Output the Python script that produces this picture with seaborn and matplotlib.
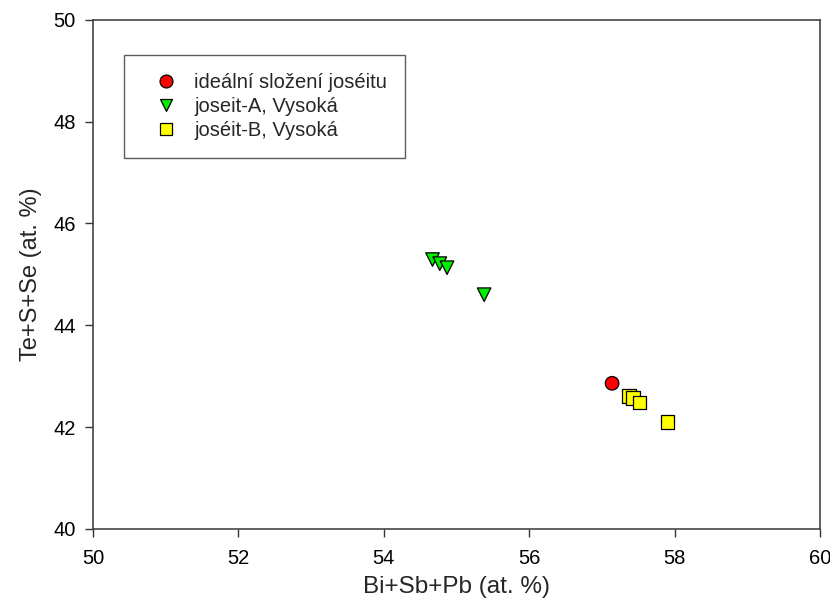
import matplotlib
matplotlib.use("Agg")
import matplotlib.pyplot as plt
import seaborn as sns
import pandas as pd

ideal_x = [57.14]
ideal_y = [42.86]
a_x = [54.67, 54.77, 54.87, 55.38]
a_y = [45.29, 45.21, 45.13, 44.60]
b_x = [57.37, 57.43, 57.52, 57.90]
b_y = [42.61, 42.57, 42.48, 42.10]
labels = ["ideální složení joséitu", "joseit-A, Vysoká", "joséit-B, Vysoká"]
xticks = [50, 52, 54, 56, 58, 60]
yticks = [40, 42, 44, 46, 48, 50]

df = pd.DataFrame({
    "x": ideal_x + a_x + b_x,
    "y": ideal_y + a_y + b_y,
    "grp": [labels[0]] * len(ideal_x) + [labels[1]] * len(a_x) + [labels[2]] * len(b_x),
})

sns.set_style("white")
plt.rcParams["font.family"] = ["Liberation Sans", "DejaVu Sans"]

fig = plt.figure(figsize=(8.3, 5.99), dpi=100)
ax = fig.add_axes([0.112, 0.117, 0.876, 0.850])

sns.scatterplot(data=df, x="x", y="y", hue="grp", style="grp",
                hue_order=labels, style_order=labels,
                palette={labels[0]: "#ff0000", labels[1]: "#00ee00", labels[2]: "#ffff00"},
                markers={labels[0]: "o", labels[1]: "v", labels[2]: "s"},
                s=95, edgecolor="black", linewidth=0.9, ax=ax, zorder=3)

ax.set_xlim(50, 60)
ax.set_ylim(40, 50)
ax.set_xticks(xticks)
ax.set_yticks(yticks)
ax.tick_params(axis="both", which="major", direction="out", length=5.5, width=1,
               color="#333333", labelcolor="black", labelsize=14.5,
               bottom=True, left=True, top=False, right=False)
ax.tick_params(axis="x", pad=9)
ax.tick_params(axis="y", pad=7)
for sp in ax.spines.values():
    sp.set_color("#444444")
    sp.set_linewidth(1.2)
ax.set_xlabel("Bi+Sb+Pb (at. %)", fontsize=17.5, labelpad=5.5)
ax.set_ylabel("Te+S+Se (at. %)", fontsize=17, labelpad=8)

handles, lbls = ax.get_legend_handles_labels()
leg = ax.legend(handles, lbls, loc="upper left", bbox_to_anchor=(0.0426, 0.931),
                fontsize=14.5, frameon=True, fancybox=False, borderpad=0.9,
                labelspacing=0.25, handlelength=2.4, handletextpad=0.2,
                borderaxespad=0, markerscale=0.95)
leg.get_frame().set_edgecolor("#333333")
leg.get_frame().set_linewidth(1.0)

fig.savefig("out.png", dpi=100)
